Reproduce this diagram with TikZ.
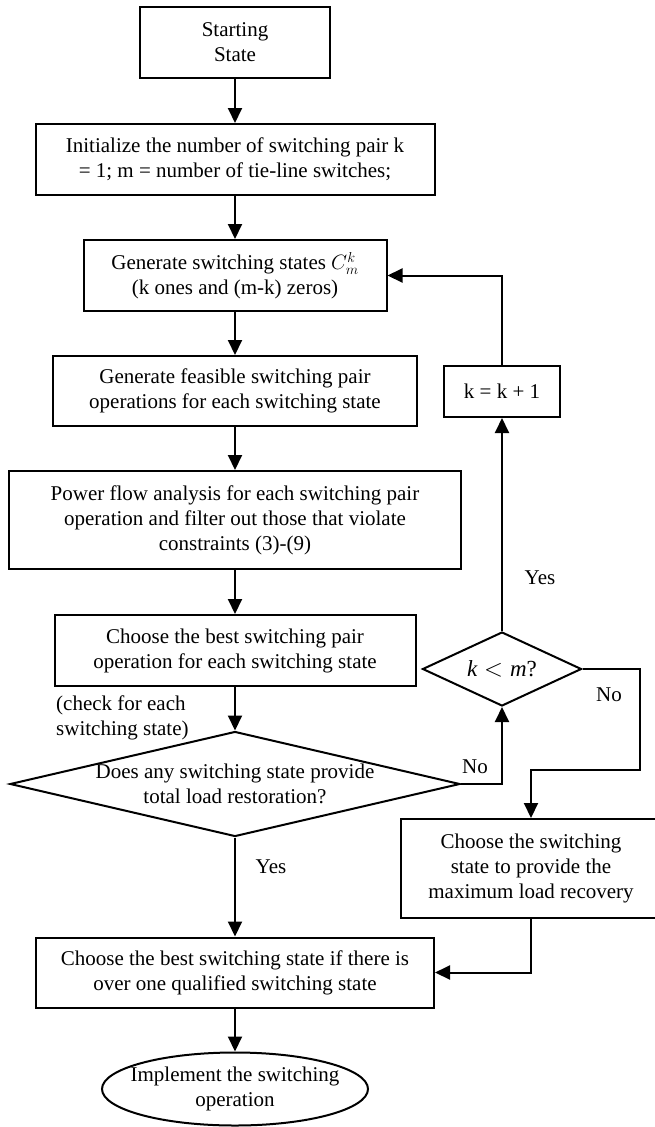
\documentclass[tikz,border=0pt]{standalone}
\usepackage{fontspec}
\setmainfont{Liberation Serif}
\usetikzlibrary{shapes.geometric}
\usetikzlibrary{arrows.meta}

\tikzset{
    procbox/.style={draw, line width=2pt, rectangle, align=center, inner sep=0pt,
        font=\fontsize{21}{25}\selectfont},
    testnode/.style={draw, line width=2pt, diamond, inner sep=0pt},
    endnode/.style={draw, line width=2pt, ellipse, inner sep=0pt},
    note/.style={inner sep=0pt, align=center, font=\fontsize{21}{25}\selectfont},
    flow/.style={line width=2pt, -{Triangle[length=15pt,width=14pt]}}
}

\begin{document}
\begin{tikzpicture}[x=1pt, y=-1pt]
        \useasboundingbox (0,0) rectangle (654,1127);
        % main column
        \node[procbox, minimum width=190pt, minimum height=71pt] (start) at (235,42.5) {Starting\\State};
        \node[procbox, minimum width=399pt, minimum height=71pt] (init) at (235,159.5) {Initialize the number of switching pair k\\= 1; m = number of tie-line switches;};
        \node[procbox, minimum width=303pt, minimum height=71pt] (gen) at (235,275.5) {Generate switching states $C_m^k$\\(k ones and (m-k) zeros)};
        \node[procbox, minimum width=364pt, minimum height=70pt] (feas) at (235,391) {Generate feasible switching pair\\operations for each switching state};
        \node[procbox, minimum width=452pt, minimum height=98pt] (power) at (235,520) {Power flow analysis for each switching pair\\operation and filter out those that violate\\constraints (3)-(9)};
        \node[procbox, minimum width=361pt, minimum height=71pt] (pair) at (235,650.5) {Choose the best switching pair\\operation for each switching state};
        \node[testnode, minimum width=450pt, minimum height=105pt,
            label={[note]center:Does any switching state provide\\total load restoration?}] (check) at (235,784) {};
        \node[procbox, minimum width=398pt, minimum height=70pt] (final) at (235,972.5) {Choose the best switching state if there is\\over one qualified switching state};
        \node[endnode, minimum width=266pt, minimum height=73pt,
            label={[note]center:Implement the switching\\operation}] (impl) at (235,1089) {};
        % right column
        \node[procbox, minimum width=116pt, minimum height=51pt] (kinc) at (502,391.5) {k = k + 1};
        \node[testnode, minimum width=159pt, minimum height=74pt,
            label={[note, font=\fontsize{23}{25}\selectfont]center:$\mathit{k} < \mathit{m}$?}] (kdec) at (502,669) {};
        \node[procbox, minimum width=260pt, minimum height=99pt] (maxbox) at (531,868.5) {Choose the switching\\state to provide the\\maximum load recovery};
        \coordinate (bend) at (640,770);
        % labels
        \node[note, anchor=west, align=left] (hint) at (56,718) {(check for each\\switching state)};
        \node[note] (yes1) at (271,867) {Yes};
        \node[note] (yes2) at (540,578) {Yes};
        \node[note] (no1) at (475,767) {No};
        \node[note] (no2) at (609,695) {No};
        % connectors
        \draw[flow] (start) -- (init);
        \draw[flow] (init) -- (gen);
        \draw[flow] (gen) -- (feas);
        \draw[flow] (feas) -- (power);
        \draw[flow] (power) -- (pair);
        \draw[flow] (pair) -- (check);
        \draw[flow] (check) -- (final);
        \draw[flow] (final) -- (impl);
        \draw[flow] (check.east) -| (kdec.south);
        \draw[flow] (kdec.north) -- (kinc.south);
        \draw[flow] (kinc.north) |- (gen.east);
        \draw[flow] (kdec.east) -| (bend) -| (maxbox.north);
        \draw[flow] (maxbox.south) |- (final.east);
\end{tikzpicture}
\end{document}
